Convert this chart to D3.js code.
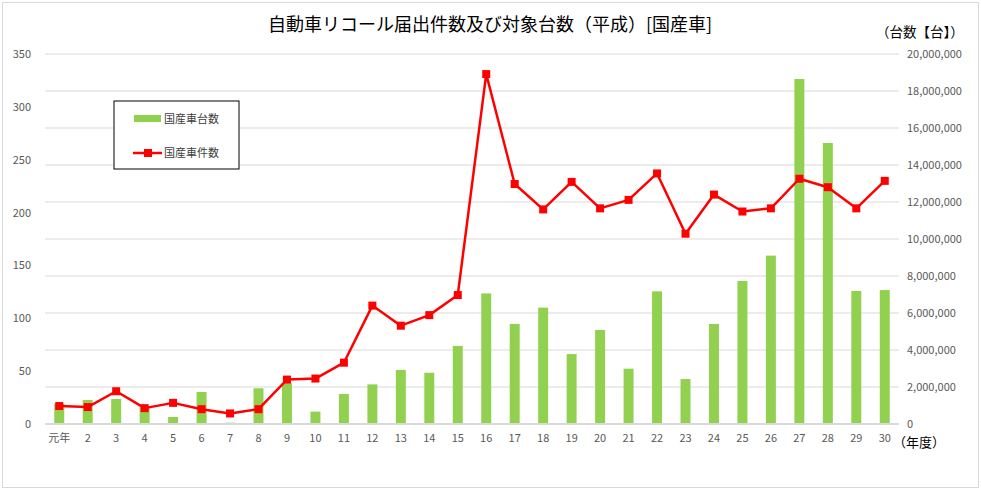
<!DOCTYPE html>
<html>
<head>
<meta charset="utf-8">
<script src="https://cdn.jsdelivr.net/npm/d3@7"></script>
<style>
  body { margin: 0; background: #fff; }
  text { font-family: "Noto Sans CJK JP", "Noto Sans", sans-serif; }
</style>
</head>
<body>
<div id="chart-area"></div>
<script>
// years (平成)
let years = ["元年","2","3","4","5","6","7","8","9","10","11","12","13","14","15",
	"16","17","18","19","20","21","22","23","24","25","26","27","28","29","30"];

// 国産車台数 (units)
let units = [1100000, 1300000, 1350000, 900000, 380000, 1730000, 70000, 1930000, 2200000, 670000,
	1620000, 2140000, 2920000, 2770000, 4220000, 7060000, 5410000, 6290000, 3780000, 5080000,
	2990000, 7170000, 2430000, 5410000, 7730000, 9100000, 18650000, 15190000, 7190000, 7240000];

// 国産車件数 (cases)
let cases = [17, 16, 31, 15, 20, 14, 10, 14, 42, 43,
	58, 112, 93, 103, 122, 331, 227, 203, 229, 204,
	212, 237, 180, 217, 201, 204, 232, 224, 204, 230];

let leftTicks = [0, 50, 100, 150, 200, 250, 300, 350];
let rightTicks = [0, 2000000, 4000000, 6000000, 8000000, 10000000, 12000000, 14000000, 16000000, 18000000, 20000000];

let W = 981, H = 490;
let margin = {top: 54, right: 82, bottom: 66, left: 45};
let width = W - margin.left - margin.right,
	height = H - margin.top - margin.bottom;

let svg = d3.select("#chart-area").append("svg")
	.attr("width", W)
	.attr("height", H);

// outer frame
svg.append("rect")
	.attr("x", 2.5).attr("y", 2.5)
	.attr("width", W - 5).attr("height", H - 5)
	.attr("fill", "#fff")
	.attr("stroke", "#d9d9d9");

let g = svg.append("g")
	.attr("transform", "translate(" + margin.left + "," + margin.top + ")");

let x = d3.scaleBand().domain(years).range([0, width]).paddingInner(0.65).paddingOuter(0.325);
let yL = d3.scaleLinear().domain([0, 350]).range([height, 0]);
let yR = d3.scaleLinear().domain([0, 20000000]).range([height, 0]);

// gridlines from right axis
g.append("g")
	.selectAll("line")
	.data(rightTicks.slice(1))
	.enter().append("line")
	.attr("x1", 0).attr("x2", width)
	.attr("y1", d => yR(d)).attr("y2", d => yR(d))
	.attr("stroke", "#d9d9d9")
	.attr("stroke-width", 1);

// bars
g.selectAll(".bar").data(units)
	.enter().append("rect")
	.attr("class", "bar")
	.attr("x", (d, i) => x(years[i]))
	.attr("y", d => yR(d))
	.attr("width", x.bandwidth())
	.attr("height", d => height - yR(d))
	.attr("fill", "#92d050");

// x axis line
g.append("line")
	.attr("x1", 0).attr("x2", width)
	.attr("y1", height).attr("y2", height)
	.attr("stroke", "#d9d9d9")
	.attr("stroke-width", 2);

// left axis
let yAxisL = d3.axisLeft(yL).tickValues(leftTicks).tickSize(0).tickPadding(14);
g.append("g")
	.attr("class", "axis")
	.call(yAxisL)
	.call(a => a.select(".domain").remove())
	.selectAll("text")
	.attr("font-size", 11)
	.attr("fill", "#595959");

// right axis
let yAxisR = d3.axisRight(yR).tickValues(rightTicks).tickSize(0).tickPadding(8)
	.tickFormat(d3.format(","));
g.append("g")
	.attr("transform", "translate(" + width + ",0)")
	.call(yAxisR)
	.call(a => a.select(".domain").remove())
	.selectAll("text")
	.attr("font-size", 11)
	.attr("fill", "#595959");

// bottom axis
let xAxis = d3.axisBottom(x).tickSize(0).tickPadding(10);
g.append("g")
	.attr("transform", "translate(0," + height + ")")
	.call(xAxis)
	.call(a => a.select(".domain").remove())
	.selectAll("text")
	.attr("font-size", 11)
	.attr("fill", "#595959");

// line
let line = d3.line()
	.x((d, i) => x(years[i]) + x.bandwidth() / 2)
	.y(d => yL(d));

g.append("path")
	.datum(cases)
	.attr("d", line)
	.attr("fill", "none")
	.attr("stroke", "#ff0000")
	.attr("stroke-width", 2.5)
	.attr("stroke-linejoin", "round");

g.selectAll(".mark").data(cases)
	.enter().append("rect")
	.attr("class", "mark")
	.attr("x", (d, i) => x(years[i]) + x.bandwidth() / 2 - 4)
	.attr("y", d => yL(d) - 4)
	.attr("width", 8)
	.attr("height", 8)
	.attr("fill", "#ff0000");

// title and unit labels
svg.append("text")
	.attr("x", 490).attr("y", 31)
	.attr("text-anchor", "middle")
	.attr("font-size", 18)
	.attr("fill", "#000")
	.text("自動車リコール届出件数及び対象台数（平成）[国産車]");

svg.append("text")
	.attr("x", 876).attr("y", 37)
	.attr("font-size", 13.5)
	.attr("fill", "#000")
	.text("（台数【台】）");

svg.append("text")
	.attr("x", 893).attr("y", 447)
	.attr("font-size", 13)
	.attr("fill", "#000")
	.text("（年度）");

// legend
let legend = svg.append("g").attr("transform", "translate(114,101)");
legend.append("rect")
	.attr("width", 125).attr("height", 68)
	.attr("fill", "#fff")
	.attr("stroke", "#000")
	.attr("stroke-width", 1);
legend.append("rect")
	.attr("x", 20).attr("y", 14).attr("width", 27).attr("height", 7)
	.attr("fill", "#92d050");
legend.append("text")
	.attr("x", 50).attr("y", 22)
	.attr("font-size", 11)
	.attr("fill", "#404040")
	.text("国産車台数");
legend.append("line")
	.attr("x1", 19).attr("x2", 48).attr("y1", 52).attr("y2", 52)
	.attr("stroke", "#ff0000").attr("stroke-width", 2.5);
legend.append("rect")
	.attr("x", 30).attr("y", 48).attr("width", 8).attr("height", 8)
	.attr("fill", "#ff0000");
legend.append("text")
	.attr("x", 50).attr("y", 56)
	.attr("font-size", 11)
	.attr("fill", "#404040")
	.text("国産車件数");
</script>
</body>
</html>
